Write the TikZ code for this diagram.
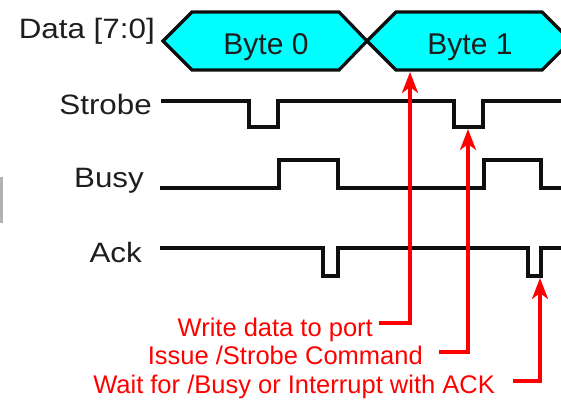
\documentclass[tikz,border=0pt]{standalone}
\usepackage{fontspec}
\setmainfont{Liberation Sans}
\newfontfamily\labelfont{Liberation Sans}[FakeStretch=1.12]
\usetikzlibrary{arrows.meta}
\definecolor{busfill}{RGB}{0,255,255}
\definecolor{ink}{RGB}{15,15,15}
\definecolor{txt}{RGB}{30,30,30}
\definecolor{note}{RGB}{255,0,0}

\begin{document}
\begin{tikzpicture}[x=1pt,y=-1pt,
  wave/.style={draw=ink, line width=3.2pt, line join=miter},
  bus/.style={wave, fill=busfill},
  siglabel/.style={anchor=base east, inner sep=0pt, text=txt,
    font=\labelfont\fontsize{28}{30}\selectfont},
  bytelabel/.style={anchor=base, inner sep=0pt, text=txt,
    font=\fontsize{30}{32}\selectfont},
  notelabel/.style={anchor=base east, inner sep=0pt, text=note,
    font=\fontsize{25.5}{27}\selectfont},
  notearrow/.style={draw=note, line width=3.2pt, line join=miter,
    -{Stealth[length=21pt,width=16pt,inset=6pt]}}
]
\useasboundingbox (0,0) rectangle (561,399);
\clip (0,0) rectangle (561,399);

% edge of a neighbouring panel
\fill[gray!60] (0,177) rectangle (2.5,223);

% signal names
\node[siglabel] (ldata)   at (155,38)  {Data [7:0]};
\node[siglabel] (lstrobe) at (152,114) {Strobe};
\node[siglabel] (lbusy)   at (144,187) {Busy};
\node[siglabel] (lack)    at (142,262) {Ack};

% data bus
\draw[bus] (163,41) -- (192,12) -- (339,12) -- (367,41) -- (339,70) -- (192,70) -- cycle;
\draw[bus] (367,41) -- (396,12) -- (542,12) -- (571,41) -- (542,70) -- (396,70) -- cycle;
\node[bytelabel] (b0) at (266,54) {Byte 0};
\node[bytelabel] (b1) at (470,54) {Byte 1};

% strobe (active low pulses)
\draw[wave] (161,101) -- (249,101) -- (249,127) -- (278,127) -- (278,101)
  -- (454,101) -- (454,127) -- (483,127) -- (483,101) -- (562,101);
% busy
\draw[wave] (160,188) -- (279,188) -- (279,160) -- (338,160) -- (338,188)
  -- (484,188) -- (484,160) -- (541,160) -- (541,188) -- (562,188);
% ack
\draw[wave] (160,248) -- (323,248) -- (323,276) -- (338,276) -- (338,248)
  -- (528,248) -- (528,276) -- (541,276) -- (541,248) -- (562,248);

% arrow targets on the waveforms
\coordinate (t1) at (410,72);
\coordinate (t2) at (468,129);
\coordinate (t3) at (540,278);

% annotations
\node[notelabel] (n1) at (373,336) {Write data to port};
\node[notelabel] (n2) at (423,364) {Issue /Strobe Command};
\node[notelabel] (n3) at (495,393) {Wait for /Busy or Interrupt with ACK};

\coordinate (s1) at (379,323);
\coordinate (s2) at (439,352);
\coordinate (s3) at (513,381);

\draw[notearrow] (s1) -| (t1);
\draw[notearrow] (s2) -| (t2);
\draw[notearrow] (s3) -| (t3);
\end{tikzpicture}
\end{document}
